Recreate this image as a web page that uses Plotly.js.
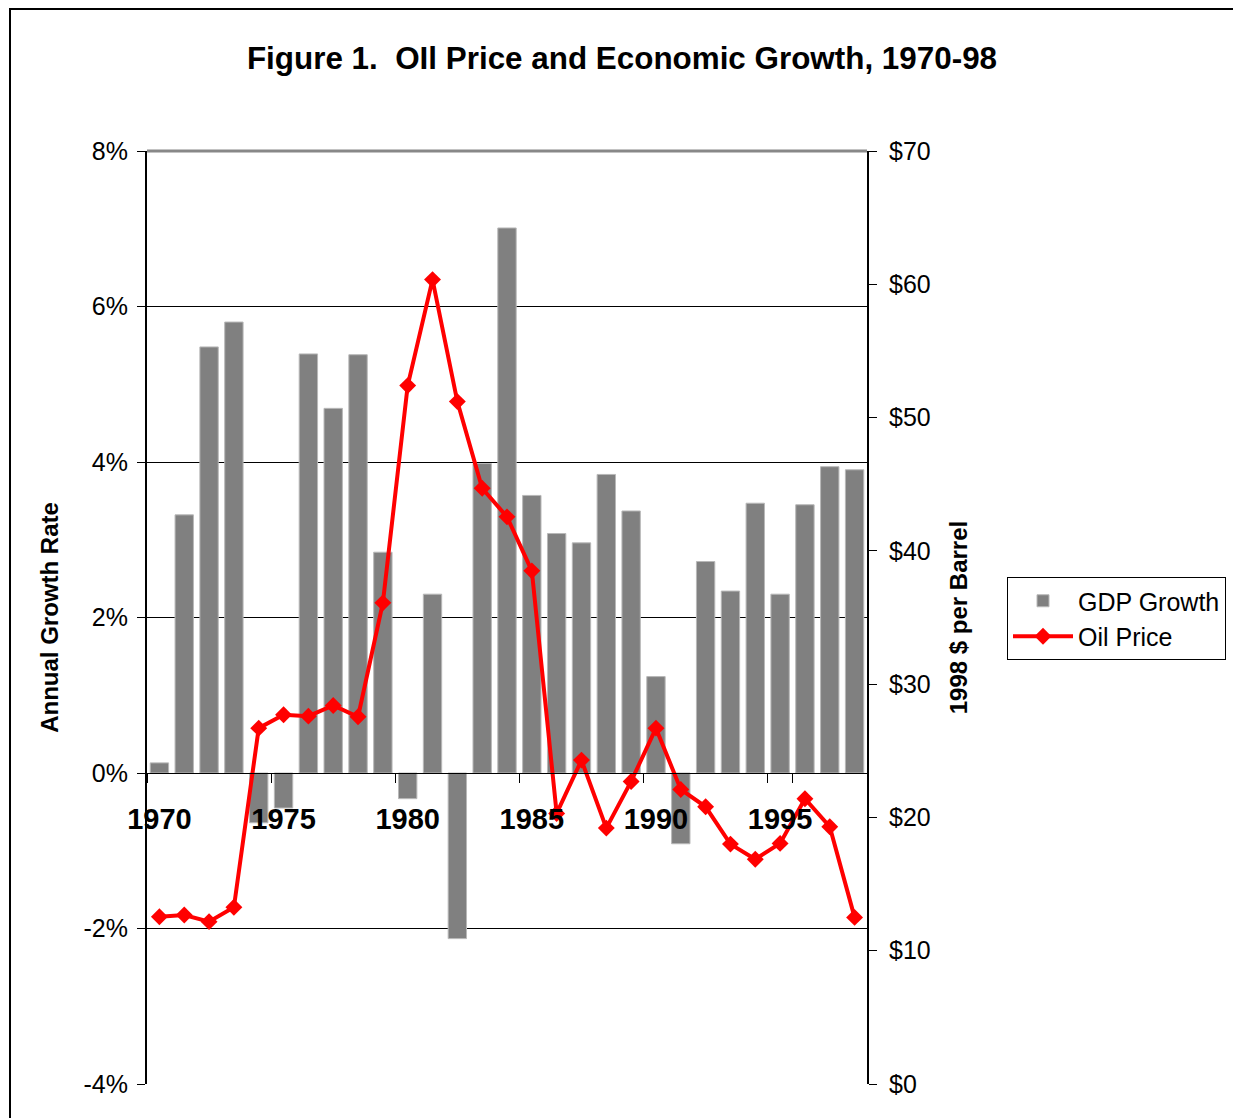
<!DOCTYPE html>
<html>
<head>
<meta charset="utf-8">
<script src="https://cdn.plot.ly/plotly-3.0.1.min.js"></script>
<style>
  html, body { margin: 0; padding: 0; background: #fff; overflow: hidden; }
  #chart { width: 1233px; height: 1118px; }
  #frame { position: absolute; left: 9px; top: 8px; width: 1300px; height: 1200px;
           border: 2px solid #000; pointer-events: none; box-sizing: border-box; }
</style>
</head>
<body>
<div id="chart"></div>
<div id="frame"></div>
<script>
const years = ['1970','1971','1972','1973','1974','1975','1976','1977','1978','1979',
               '1980','1981','1982','1983','1984','1985','1986','1987','1988','1989',
               '1990','1991','1992','1993','1994','1995','1996','1997','1998'];
const gdpGrowth = [0.13, 3.32, 5.48, 5.80, -0.64, -0.45, 5.39, 4.69, 5.38, 2.84,
                   -0.33, 2.30, -2.13, 3.98, 7.01, 3.57, 3.08, 2.96, 3.84, 3.37,
                   1.24, -0.91, 2.72, 2.34, 3.47, 2.30, 3.45, 3.94, 3.90];
const oilPrice = [12.55, 12.68, 12.18, 13.26, 26.7, 27.7, 27.6, 28.4, 27.55, 36.1,
                  52.4, 60.35, 51.2, 44.7, 42.55, 38.5, 20.3, 24.3, 19.2, 22.7,
                  26.7, 22.1, 20.8, 18.0, 16.86, 18.05, 21.4, 19.3, 12.5];
const xTickLabels = ['1970','1975','1980','1985','1990','1995'];
const leftTicks = [-4, -2, 0, 2, 4, 6, 8];
const rightTicks = [0, 10, 20, 30, 40, 50, 60, 70];

const FONT = 'Arial, "Liberation Sans", sans-serif';

const traces = [
  {
    type: 'bar', name: 'GDP Growth', x: years, y: gdpGrowth,
    xaxis: 'x', yaxis: 'y',
    marker: { color: '#808080', line: { color: '#b8b8b8', width: 1 } }
  },
  {
    type: 'scatter', mode: 'lines+markers', name: 'Oil Price', x: years, y: oilPrice,
    xaxis: 'x', yaxis: 'y2',
    line: { color: '#ff0000', width: 4 },
    marker: { symbol: 'diamond', size: 13, color: '#ff0000' }
  }
];

const layout = {
  width: 1233, height: 1118, autosize: false,
  margin: { l: 147, r: 366, t: 151, b: 34, autoexpand: false },
  paper_bgcolor: '#fff', plot_bgcolor: '#fff',
  font: { family: FONT, color: '#000' },
  showlegend: true,
  bargap: 0.26,
  title: {
    text: 'Figure 1.\u00a0\u00a0OIl Price and Economic Growth, 1970-98',
    font: { family: FONT, size: 31.4, weight: 'bold', color: '#000' },
    xref: 'container', yref: 'container', x: 622 / 1233, xanchor: 'center',
    y: 1 - 58 / 1118, yanchor: 'middle'
  },
  xaxis: {
    type: 'category', anchor: 'free', position: 1 / 3,
    range: [-0.5, 28.5], autorange: false,
    showline: true, linecolor: '#000', linewidth: 1,
    ticks: 'outside', ticklen: 9, tickcolor: '#000', tickwidth: 1,
    tickson: 'boundaries',
    tickmode: 'array', tickvals: xTickLabels, ticktext: xTickLabels,
    tickangle: 0,
    ticklabelstandoff: 20,
    tickfont: { family: FONT, size: 29, weight: 'bold', color: '#000' },
    showgrid: false, zeroline: false, fixedrange: true
  },
  yaxis: {
    range: [-4, 8], tickmode: 'array', tickvals: leftTicks,
    ticktext: leftTicks.map(v => v + '%'),
    showline: true, linecolor: '#000', linewidth: 2, mirror: false,
    ticks: 'outside', ticklen: 8, tickcolor: '#000',
    ticklabelstandoff: 4,
    tickfont: { family: FONT, size: 25, color: '#000' },
    showgrid: true, gridcolor: '#000', gridwidth: 1,
    zeroline: true, zerolinecolor: '#000', zerolinewidth: 1,
    title: { text: 'Annual Growth Rate', standoff: 18,
             font: { family: FONT, size: 24, weight: 'bold', color: '#000' } }
  },
  yaxis2: {
    overlaying: 'y', side: 'right', range: [0, 70],
    tickmode: 'array', tickvals: rightTicks,
    ticktext: rightTicks.map(v => '$' + v),
    showline: true, linecolor: '#000', linewidth: 2,
    ticks: 'outside', ticklen: 8, tickcolor: '#000',
    ticklabelstandoff: 7,
    tickfont: { family: FONT, size: 25, color: '#000' },
    showgrid: false, zeroline: false,
    title: { text: '1998 $ per Barrel', standoff: 20,
             font: { family: FONT, size: 24, weight: 'bold', color: '#000' } }
  },
  legend: {
    xref: 'container', yref: 'container',
    x: 1007 / 1233, y: 1 - 577 / 1118, xanchor: 'left', yanchor: 'top',
    bgcolor: '#fff', bordercolor: '#000', borderwidth: 1,
    font: { family: FONT, size: 25, color: '#000' },
    itemwidth: 60,
    tracegroupgap: 0
  },
  shapes: [
    { type: 'line', xref: 'paper', yref: 'paper', x0: 0, x1: 1, y0: 1, y1: 1,
      line: { color: '#888', width: 3 }, layer: 'above' }
  ]
};

Plotly.newPlot('chart', traces, layout, { staticPlot: true, displayModeBar: false });
</script>
</body>
</html>
